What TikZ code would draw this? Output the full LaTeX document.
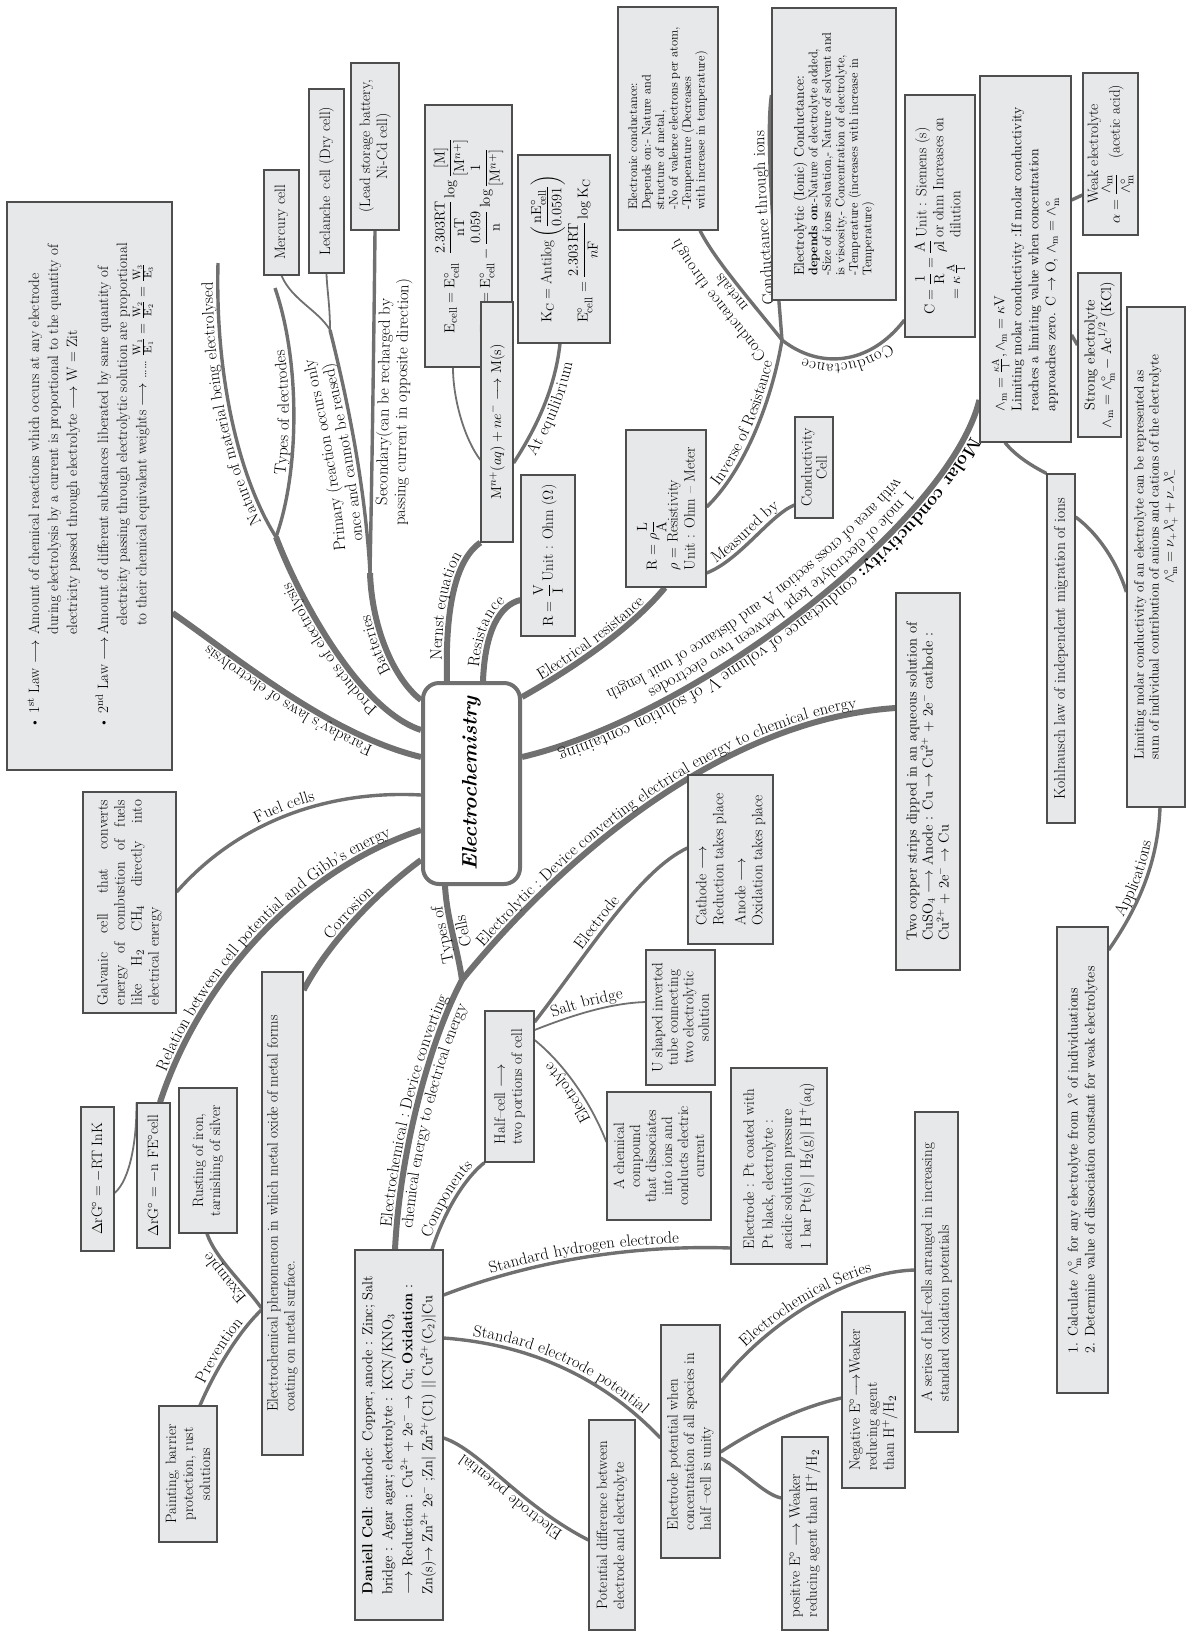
\documentclass[tikz,border=0pt]{standalone}
\usepackage{amsmath}
\usetikzlibrary{calc,decorations.text}

\definecolor{boxfill}{RGB}{231,232,233}
\definecolor{boxline}{RGB}{78,78,78}
\definecolor{limb}{RGB}{112,112,112}

\pgfdeclarelayer{bg}
\pgfsetlayers{bg,main}

\tikzset{
  box/.style={draw=boxline, fill=boxfill, line width=1.2pt, rotate=90,
    inner sep=3pt, align=left, font=\fontsize{15}{17}\selectfont},
  hub/.style={draw=limb, fill=white, line width=4pt, rounded corners=16pt,
    rotate=90, font=\fontsize{21}{24}\selectfont\bfseries\itshape},
  trunk/.style={draw=limb, line width=6pt},
  limbl/.style={draw=limb, line width=3.4pt},
  twig/.style={draw=limb, line width=1.8pt},
  lab/.style={postaction={decorate, decoration={text along path,
    text align=center, raise=5pt, text={#1}}}},
  labr/.style 2 args={postaction={decorate, decoration={text along path,
    text align=center, raise=#1, text={#2}}}},
  labo/.style n args={3}{postaction={decorate, decoration={text along path,
    text align={#1}, raise=#2, text={#3}}}},
}

\begin{document}
\begin{tikzpicture}[x=1pt,y=-1pt]
\fontsize{16.5}{19}\selectfont
\useasboundingbox (0,0) rectangle (1189,1634);

% centre
\node[hub, minimum width=201pt, minimum height=97pt] (ec) at (471.5,783.5) {Electrochemistry};

% electrolysis and batteries
\node[box, minimum width=568pt, minimum height=165pt, font=\fontsize{15}{19}\selectfont] (far) at (89.5,486) {%
\begin{tabular}{@{}l@{\,}l@{}}
\textbullet\ 1\textsuperscript{st} Law $\longrightarrow$ & Amount of chemical reactions which occurs at any electrode\\
 & during electrolysis by a current is proportional to the quantity of\\
 & electricity passed through electrolyte $\longrightarrow$ W = Zit\\[12pt]
\textbullet\ 2\textsuperscript{nd} Law $\longrightarrow$ & Amount of different substances liberated by same quantity of\\
 & \ \ electricity passing through electrolytic solution are proportional\\
 & \ \ to their chemical equivalent weights $\longrightarrow$ \dots\dots\ $\frac{\mathrm{W_1}}{\mathrm{E_1}}=\frac{\mathrm{W_2}}{\mathrm{E_2}}=\frac{\mathrm{W_3}}{\mathrm{E_3}}$
\end{tabular}};
\node[box, minimum width=105pt, minimum height=35pt] (mercury) at (281.5,222.5) {Mercury cell};
\node[box, minimum width=184pt, minimum height=35pt] (leclanche) at (326.5,181) {Leclanche\enspace cell (Dry cell)};
\node[box, minimum width=167pt, minimum height=48pt, align=center] (lead) at (375,146.5) {(Lead storage battery,\\ Ni-Cd cell)};

% nernst
\node[box, minimum width=262pt, minimum height=87pt] (nernstbox) at (468.5,236) {%
$\mathrm{E_{cell}} = \mathrm{E^{\circ}_{cell}}\;\;\dfrac{2.303\mathrm{RT}}{\mathrm{nT}}\log\dfrac{[\mathrm{M}]}{[\mathrm{M}^{n+}]}$\\[2pt]
$\mathrm{E_{cell}} = \mathrm{E^{\circ}_{cell}} - \dfrac{0.059}{\mathrm{n}}\log\dfrac{1}{[\mathrm{M}^{n+}]}$};
\node[box, minimum width=240pt, minimum height=32pt] (mbox) at (497,422) {$\mathrm{M}^{n+}(aq) + ne^{-} \longrightarrow \mathrm{M(s)}$};
\node[box, minimum width=188pt, minimum height=92pt] (kcbox) at (564,249) {%
$\mathrm{K_C} = \text{Antilog}\left(\dfrac{\mathrm{nE^{\circ}_{cell}}}{0.0591}\right)$\\[2pt]
$\mathrm{E^{\circ}_{cell}} = \dfrac{2.303\,\mathrm{RT}}{n\mathrm{F}}\log \mathrm{K_C}$};

% conductance
\node[box, minimum width=223pt, minimum height=100pt, font=\fontsize{12.5}{13.5}\selectfont] (econd) at (668,118.5) {%
Electronic conductance:\\ Depends on:- Nature and\\ structure of metal,\\ -No of valence electrons per atom,\\ -Temperature (Decreases\\ with increase in temperature)};
\node[box, minimum width=292pt, minimum height=124pt, font=\fontsize{12.5}{13.5}\selectfont] (icond) at (834,154) {%
{\fontsize{14}{15}\selectfont Electrolytic (Ionic) Conductance:}\\ \textbf{depends on}:-Nature of electrolyte added,\\ -Size of ions solvation,- Nature of solvent and\\ is viscosity,- Concentration of electrolyte,\\ -Temperature (increases with increase in\\ Temperature)};
\node[box, minimum width=242pt, minimum height=70pt] (cbox) at (940,216) {%
\begin{tabular}{@{}l@{}}$\mathrm{C}=\dfrac{1}{\mathrm{R}}=\dfrac{\mathrm{A}}{\rho\mathrm{l}}$\\ $\quad=\kappa\,\frac{\mathrm{A}}{\mathrm{l}}$\end{tabular}\,%
\begin{tabular}{@{}l@{}}Unit : Siemens (s)\\ or ohm Increases on\\ dilution\end{tabular}};
\node[box, minimum width=366pt, minimum height=91pt, font=\fontsize{14}{17}\selectfont] (limbox) at (1025.5,259) {%
$\wedge_{\mathrm{m}}=\frac{\kappa\mathrm{A}}{\mathrm{l}},\wedge_{\mathrm{m}}=\kappa\mathrm{V}$\\ Limiting molar conductivity :If molar conductivity\\ reaches a limiting value when concentration\\ approaches zero. C $\rightarrow$ O, $\wedge_{\mathrm{m}}=\wedge^{\circ}_{\mathrm{m}}$};
\node[box, minimum width=162pt, minimum height=55pt, align=center] (weak) at (1110.5,154) {%
Weak electrolyte\\ $\alpha=\dfrac{\wedge_{\mathrm{m}}}{\wedge^{\circ}_{\mathrm{m}}}$\quad(acetic acid)};
\node[box, minimum width=164pt, minimum height=43pt, align=center, font=\fontsize{14.5}{16.5}\selectfont] (strong) at (1099.5,355) {%
Strong electrolyte\\ $\wedge_{\mathrm{m}}=\wedge^{\circ}_{\mathrm{m}}-\mathrm{Ac}^{1/2}$ (KCl)};
\node[box, minimum width=349pt, minimum height=28pt, font=\fontsize{15.5}{17}\selectfont] (kohl) at (1061,648.5) {Kohlrausch law of independent migration of ions};
\node[box, minimum width=500pt, minimum height=58pt, font=\fontsize{13.5}{15}\selectfont] (limel) at (1156,557) {%
Limiting molar conductivity of an electrolyte can be represented as\\ sum of individual contribution of anions and cations of the electrolyte\\ \hspace*{13em}$\wedge^{\circ}_{\mathrm{m}}=\nu_{+}\lambda^{\circ}_{+}+\nu_{-}\lambda^{\circ}_{-}$};
\node[box, minimum width=466pt, minimum height=51pt, font=\fontsize{14}{17}\selectfont] (apps) at (1082.5,1160) {%
1. Calculate $\wedge^{\circ}_{\mathrm{m}}$ for any electrolyte from $\lambda^{\circ}$ of individuations\\ 2. Determine value of dissociation constant for weak electrolytes};

% resistance
\node[box, minimum width=101pt, minimum height=38pt, align=center, font=\fontsize{15}{15}\selectfont] (ccell) at (814,467.5) {Conductivity\\ Cell};
\node[box, minimum width=157pt, minimum height=80pt] (rrho) at (666,508.5) {%
$\mathrm{R}=\rho\dfrac{\mathrm{L}}{\mathrm{A}}$\\ $\rho$ = Resistivity\\ Unit : Ohm -- Meter};
\node[box, minimum width=161pt, minimum height=54pt] (rvi) at (548,555.5) {$\mathrm{R}=\dfrac{\mathrm{V}}{\mathrm{I}}$\,Unit : Ohm ($\Omega$)};

% cells
\node[box, minimum width=377pt, minimum height=64pt, font=\fontsize{14.5}{16}\selectfont] (copper) at (928,781.5) {%
Two copper strips dipped in an aqueous solution of\\ CuSO$_4$ $\longrightarrow$ Anode : Cu $\rightarrow$ Cu$^{2+}$ + 2e$^{-}$ cathode :\\ Cu$^{2+}$ + 2e$^{-}$ $\rightarrow$ Cu};
\node[box, minimum width=169pt, minimum height=85pt] (cathode) at (730.5,859.5) {%
Cathode $\longrightarrow$\\ Reduction takes place\\[5pt] Anode $\longrightarrow$\\ Oxidation takes place};
\node[box, minimum width=135pt, minimum height=69pt, align=center, font=\fontsize{15}{15.5}\selectfont] (ushape) at (680.5,1017.5) {%
U shaped inverted\\ tube connecting\\ two electrolytic\\ solution};
\node[box, minimum width=151pt, minimum height=49pt] (halfcell) at (509.5,1086.5) {Half--cell $\longrightarrow$\\ two portions of cell};
\node[box, minimum width=128pt, minimum height=104pt, align=center, font=\fontsize{15}{16}\selectfont] (chemcomp) at (659,1156) {%
A chemical\\ compound\\ that dissociates\\ into ions and\\ conducts electric\\ current};
\node[box, minimum width=196pt, minimum height=96pt, font=\fontsize{15}{19}\selectfont] (ptbox) at (779,1166) {%
Electrode : Pt coated with\\ Pt black, electrolyte :\\ acidic solution pressure\\ 1 bar Pt(s) $|$ H$_2$(g)$|$ H$^{+}$(aq)};
\node[box, minimum width=320pt, minimum height=43pt] (series) at (936.5,1272) {%
A series of half--cells arranged in increasing\\ standard oxidation potentials};
\node[box, minimum width=176pt, minimum height=63pt] (negE) at (873.5,1400) {%
Negative E$^{\circ}\!\longrightarrow$Weaker\\ reducing agent\\ than H$^{+}$/H$_2$};
\node[box, minimum width=193pt, minimum height=46pt] (posE) at (805,1533.5) {%
positive E$^{\circ}$ $\longrightarrow$ Weaker\\ reducing agent than H$^{+}$/H$_2$};
\node[box, minimum width=233pt, minimum height=59pt, font=\fontsize{15}{16.5}\selectfont] (epbox) at (690.5,1441.5) {%
Electrode potential when\\ concentration of all species in\\ half --cell is unity};
\node[box, minimum width=210pt, minimum height=46pt] (pdbox) at (612,1525) {%
Potential difference between\\ electrode and electrolyte};
\node[box, minimum width=370pt, minimum height=88pt, font=\fontsize{14.5}{20}\selectfont] (daniell) at (399,1435) {%
\textbf{Daniell Cell}: cathode: Copper, anode : Zinc; Salt\\ bridge : Agar agar; electrolyte : KCN/KNO$_3$\\ $\longrightarrow$ Reduction : Cu$^{2+}$ + 2e$^{-}$ $\rightarrow$ Cu; \textbf{Oxidation} :\\ Zn(s)$\rightarrow$ Zn$^{2+}$ 2e$^{-}$ ;Zn$|$ Zn$^{2+}$(C1) $||$ Cu$^{2+}$(C$_2$)$|$Cu};

% corrosion and Gibbs energy
\node[box, minimum width=483pt, minimum height=41pt] (corrbox) at (282.5,1213.5) {%
Electrochemical phenomenon in which metal oxide of metal forms\\ coating on metal surface.};
\node[box, minimum width=136pt, minimum height=58pt, align=center] (paint) at (188,1474) {Painting, barrier\\ protection, rust\\ solutions};
\node[box, minimum width=145pt, minimum height=58pt, align=center] (rust) at (208,1160.5) {Rusting of iron,\\ tarnishing of silver};
\node[box, minimum width=145pt, minimum height=33pt] (nfe) at (153.5,1175.5) {$\Delta$rG$^{\circ}$ = $-$n FE$^{\circ}$cell};
\node[box, minimum width=144pt, minimum height=33pt] (rtlnk) at (97.5,1179) {$\Delta$rG$^{\circ}$ = $-$RT InK};
\node[box, minimum width=221pt, minimum height=93pt, text width=205pt] (galv) at (129.5,902.5) {%
Galvanic\hfill cell\hfill that\hfill converts\\ energy\hfill of\hfill combustion\hfill of\hfill fuels\\ like\hfill H$_2$\hfill CH$_4$\hfill directly\hfill into\\ electrical energy};

% forks and free ends
\coordinate (fprod) at (276,537);
\coordinate (fbat) at (370,573);
\coordinate (fprim) at (330,330);
\coordinate (fcond) at (782,340);
\coordinate (jcell) at (462,980);
\coordinate (natend) at (218,263);
\coordinate (typend) at (275,288);

\begin{pgfonlayer}{bg}
% left of the centre
\draw[trunk, lab={Faraday's laws of electrolysis}] (ec.north |- 0,757) .. controls (330,735) and (240,660) .. (far.south |- 0,613);
\draw[trunk, lab={Products of electrolysis}] (ec.north |- 0,730) .. controls (360,710) and (300,600) .. (fprod);
\draw[limbl, lab={Nature of material being electrolysed}] (fprod) .. controls (240,480) and (215,380) .. (natend);
\draw[limbl, lab={Types of electrodes}] (fprod) .. controls (300,470) and (300,360) .. (typend);
\draw[trunk, lab={Batteries}] (ec.north |- 0,700) .. controls (395,680) and (372,630) .. (fbat);
\draw[limbl, labr={23pt}{Primary (reaction occurs only}, labr={5pt}{once and cannot be reused)}] (fbat) .. controls (365,480) and (345,390) .. (fprim);
\draw[limbl, labr={-16pt}{Secondary(can be recharged by}, labr={-34pt}{passing current in opposite direction)}] (fbat) .. controls (372,470) and (374,330) .. (lead.west);
\draw[twig] (fprim) .. controls (318,310) and (292,300) .. (mercury.west);
\draw[twig] (fprim) .. controls (330,305) and (327,290) .. (leclanche.west);

% above the centre
\draw[trunk, lab={Nernst equation}] (ec.east -| 447,0) .. controls (445,610) and (455,560) .. (mbox.north west);
\draw[twig] (mbox.north |- 0,460) .. controls (465,440) and (453,400) .. (nernstbox.west -| 453,0);
\draw[limbl, labr={-15pt}{At equilibrium}] (mbox.south |- 0,463) .. controls (535,430) and (555,390) .. (kcbox.west -| 560,0);
\draw[trunk, lab={Resistance}] (ec.east -| 483,0) .. controls (485,630) and (500,605) .. (rvi.north |- 0,600);
\draw[trunk, lab={Electrical resistance}] (ec.south |- 0,697) .. controls (570,670) and (630,630) .. (rrho.west -| 665,0);
\draw[limbl, lab={Inverse of Resistance}] (rrho.south |- 0,507) .. controls (745,470) and (772,400) .. (fcond);
\draw[limbl, lab={Measured by}] (rrho.south |- 0,573) .. controls (740,560) and (770,515) .. (ccell.north |- 0,505);
\draw[limbl, lab={Conductance}] (cbox.north |- 0,320) .. controls (870,365) and (820,370) .. (fcond);
\draw[limbl, labr={22pt}{Conductance through}, labr={5pt}{metals}] (fcond) .. controls (750,300) and (715,260) .. (econd.west -| 700,0);
\draw[limbl, lab={Conductance through ions}] (fcond) .. controls (775,250) and (765,140) .. (icond.north |- 0,95);

% molar conductivity
\draw[trunk, lab={|\fontsize{18}{20}\selectfont\bfseries|Molar conductivity:|\fontsize{18}{20}\selectfont\mdseries| conductance of volume V of solution containing},
  labo={left, left indent=118pt}{-17pt}{|\fontsize{17}{20}\selectfont|1 mole of electrolyte kept between two electrodes},
  labo={left, left indent=116pt}{-34pt}{|\fontsize{17}{20}\selectfont|with area of cross section A and distance of unit length}]
  (limbox.north |- 0,400) .. controls (950,520) and (700,715) .. (ec.south |- 0,757);
\draw[limbl] (limbox.south |- 0,200) -- (weak.north |- 0,195);
\draw[limbl] (limbox.south |- 0,335) -- (strong.north |- 0,345);
\draw[limbl] (limbox.west -| 1005,0) .. controls (1015,455) and (1030,465) .. (kohl.north east);
\draw[limbl] (kohl.south |- 0,517) .. controls (1100,535) and (1118,565) .. (limel.north |- 0,592);
\draw[limbl, lab={Applications}] (apps.south |- 0,950) .. controls (1140,905) and (1158,860) .. (limel.west -| 1160,0);

% types of cells
\draw[trunk, lab={Types of}, labr={-16pt}{Cells}] (jcell) .. controls (458,950) and (447,920) .. (ec.west -| 445,0);
\draw[trunk, lab={Electrolytic : Device converting electrical energy to chemical energy}] (jcell) .. controls (560,860) and (720,720) .. (copper.north |- 0,708);
\draw[trunk, lab={Electrochemical : Device converting}, labr={-16pt}{chemical energy to electrical energy}] (daniell.east -| 395,0) .. controls (400,1150) and (430,1040) .. (jcell);
\draw[limbl, lab={Components}] (daniell.east -| 432,0) .. controls (445,1210) and (465,1178) .. (halfcell.north west);
\draw[limbl, lab={Electrode}] (halfcell.south |- 0,1022) .. controls (590,950) and (640,870) .. (cathode.north |- 0,848);
\draw[twig, lab={Salt bridge}] (halfcell.south |- 0,1030) .. controls (580,1012) and (615,1003) .. (ushape.north |- 0,1002);
\draw[twig, lab={Electrolyte}] (chemcomp.north |- 0,1142) .. controls (590,1100) and (562,1062) .. (halfcell.south |- 0,1040);
\draw[limbl, lab={Standard hydrogen electrode}] (daniell.south |- 0,1295) .. controls (540,1258) and (640,1245) .. (ptbox.north |- 0,1248);
\draw[limbl, lab={Standard electrode potential}] (daniell.south |- 0,1338) .. controls (540,1345) and (610,1385) .. (epbox.north |- 0,1438);
\draw[limbl, lab={Electrode potential}] (pdbox.north |- 0,1540) .. controls (520,1505) and (480,1450) .. (daniell.south |- 0,1438);
\draw[limbl, lab={Electrochemical Series}] (epbox.south |- 0,1382) .. controls (770,1320) and (850,1272) .. (series.north |- 0,1270);
\draw[limbl] (epbox.south |- 0,1452) .. controls (770,1420) and (810,1405) .. (negE.north |- 0,1398);
\draw[limbl] (epbox.south |- 0,1458) .. controls (745,1472) and (765,1495) .. (posE.north |- 0,1498);

% below left of the centre
\draw[limbl, lab={Fuel cells}] (galv.south |- 0,892) .. controls (240,820) and (330,790) .. (ec.north |- 0,795);
\draw[trunk, lab={Relation between cell potential and Gibb's energy}] (nfe.east -| 160,0) .. controls (200,980) and (300,870) .. (ec.north |- 0,830);
\draw[twig] (rtlnk.south |- 0,1193) .. controls (130,1180) and (137,1140) .. (nfe.north east);
\draw[trunk, lab={Corrosion}] (corrbox.south |- 0,990) .. controls (330,940) and (380,890) .. (ec.north |- 0,860);
\draw[limbl, lab={Example}] (corrbox.north |- 0,1308) .. controls (245,1285) and (215,1258) .. (rust.west -| 207,0);
\draw[limbl, lab={Prevention}] (paint.east -| 200,0) .. controls (215,1370) and (240,1330) .. (corrbox.north |- 0,1310);
\end{pgfonlayer}
\end{tikzpicture}
\end{document}
